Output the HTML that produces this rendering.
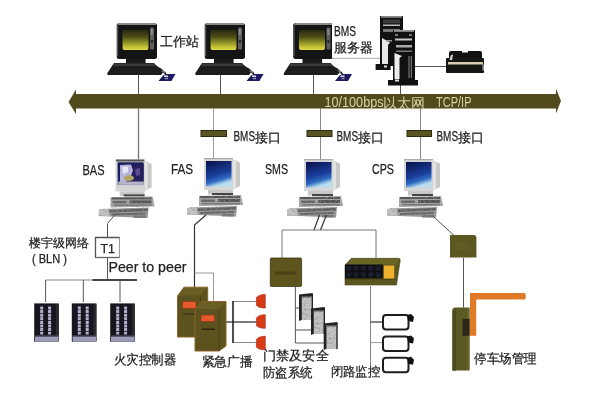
<!DOCTYPE html>
<html><head><meta charset="utf-8">
<style>
html,body{margin:0;padding:0;background:#fff;width:600px;height:400px;overflow:hidden}
svg{display:block;position:absolute;left:0;top:0;filter:blur(0.35px)}
text{font-family:"Liberation Sans",sans-serif}
text[fill="#222"]{stroke:#222;stroke-width:0.25px}
</style></head>
<body>
<svg width="600" height="400" viewBox="0 0 600 400">
<defs>
  <filter id="mot" x="0" y="0" width="1" height="1">
    <feTurbulence type="fractalNoise" baseFrequency="0.45" numOctaves="2" seed="3" result="n"/>
    <feColorMatrix in="n" type="matrix" values="0 0 0 0 0.25  0 0 0 0 0.25  0 0 0 0 0.25  0 0 0 -2.0 1.05" result="a"/>
    <feComposite in="a" in2="SourceGraphic" operator="in" result="dark"/>
    <feMerge><feMergeNode in="SourceGraphic"/><feMergeNode in="dark"/></feMerge>
  </filter>
  <linearGradient id="ysc" x1="0" y1="0" x2="0" y2="1">
    <stop offset="0" stop-color="#2a2a10"/>
    <stop offset="0.35" stop-color="#4e4e18"/>
    <stop offset="0.8" stop-color="#b8b830"/>
    <stop offset="1" stop-color="#dede48"/>
  </linearGradient>
  <linearGradient id="bsc" x1="0" y1="0" x2="0.3" y2="1">
    <stop offset="0" stop-color="#0a1248"/>
    <stop offset="0.6" stop-color="#1a3e9c"/>
    <stop offset="0.82" stop-color="#2e6cc0"/>
    <stop offset="1" stop-color="#b8dcf0"/>
  </linearGradient>
  <g id="ws">
    <!-- monitor -->
    <rect x="116.7" y="23" width="40.3" height="36" rx="2.5" fill="#141414"/>
    <rect x="118" y="23" width="38" height="2" fill="#8a8a8a"/>
    <rect x="117" y="24.5" width="1.2" height="32" fill="#555"/>
    <rect x="150" y="27.5" width="4" height="22" rx="1" fill="#5e5e5e"/>
    <rect x="150.8" y="29" width="2" height="6" fill="#8a8a8a"/>
    <rect x="150.8" y="40" width="2.2" height="3" fill="#2a2a2a"/>
    <rect x="122.5" y="30" width="26" height="20" rx="2" fill="url(#ysc)"/>
    <rect x="126" y="59" width="19.6" height="4.5" fill="#1a1a1a"/>
    <polygon points="114,63 154,63 163,72.5 161,75 107.4,75 107.4,73" fill="#1c1c1c"/>
    <polygon points="114,63.5 154,63.5 156,66 112,66" fill="#3a3a3a"/>
    <polyline points="155,66 161,69.5 166,74" fill="none" stroke="#222" stroke-width="1.8"/>
    <line x1="162" y1="70.5" x2="164.5" y2="72.5" stroke="#ddd" stroke-width="0.8"/>
    <polygon points="158.5,81 163,75.5 166,74 175.5,74 171.5,81" fill="#1e1a62"/>
    <rect x="164" y="75.5" width="4" height="1.6" fill="#e0e0e8"/>
    <rect x="165" y="78.2" width="3" height="1" fill="#b8b8c8"/>
  </g>
  <g id="pc">
    <!-- origin: FAS computer -->
    <polygon points="232,159 240,162.5 240,186 232,190" fill="#c8c8c8"/>
    <polygon points="233,160 236,161.5 236,188 233,189" fill="#e2e2e2"/>
    <rect x="204" y="158" width="29" height="32" fill="#d6d6d6"/>
    <rect x="204" y="158" width="29" height="1.2" fill="#aaa"/>
    <rect x="206" y="161" width="25.5" height="25.6" fill="url(#bsc)"/>
    <rect x="208" y="190" width="25" height="4.5" fill="#c8c8c8"/>
    <rect x="212" y="193" width="21" height="2" fill="#444"/>
    <g filter="url(#mot)" opacity="1">
    <polygon points="199,196 241,195 243,205 199,206" fill="#a8a8a8"/>
    <rect x="200" y="196" width="40" height="2" fill="#555"/>
    <rect x="201" y="199.5" width="14" height="2.5" fill="#666"/>
    <rect x="218" y="199" width="22" height="3" fill="#555"/>
    <rect x="202" y="203" width="38" height="1.5" fill="#777"/>
    <polygon points="189,207.5 237,206 236,216.5 187,214.5" fill="#9a9a9a"/>
    <polygon points="187,208 196,207.5 198,214.5 187,214" fill="#c4c4c4"/>
    <polygon points="198,208.5 236,207 236,209.5 198,211" fill="#5e5e5e"/>
    <polygon points="200,212 234,211 234,213 200,214" fill="#666"/>
    <rect x="222" y="214" width="12" height="2.5" fill="#777"/>
  </g>
  </g>
</defs>

<!-- ===== top lines ===== -->
<g stroke="#555" stroke-width="1" fill="none">
  <line x1="138.5" y1="74" x2="138.5" y2="94"/>
  <line x1="220.5" y1="74" x2="220.5" y2="94"/>
  <line x1="313.5" y1="74" x2="313.5" y2="94"/>
  <line x1="400.5" y1="85" x2="400.5" y2="94"/>
  <line x1="415" y1="66.5" x2="446" y2="66.5"/>
</g>

<!-- workstations -->
<use href="#ws"/>
<use href="#ws" transform="translate(88,0)"/>
<use href="#ws" transform="translate(176.5,0)"/>

<!-- BMS server label box -->
<rect x="332" y="22" width="48" height="36" fill="#fff"/>
<line x1="332" y1="58.3" x2="380" y2="58.3" stroke="#aaa" stroke-width="1"/>

<!-- servers -->
<g>
  <rect x="380" y="16" width="23" height="50" fill="#111"/>
  <rect x="381" y="16" width="21" height="1.8" fill="#888"/>
  <rect x="383" y="19.5" width="17" height="4" fill="#3a3a3a"/>
  <rect x="383" y="24.5" width="17" height="1.5" fill="#bbb"/>
  <rect x="383" y="29" width="17" height="3" fill="#777"/>
  <polygon points="382,38 390,42.5 388,45 388,64 382,64" fill="#e8e8e8"/>
  <rect x="386" y="40" width="6" height="1.5" fill="#999"/>
  <rect x="375.6" y="64" width="15" height="6" fill="#111"/>
  <rect x="384" y="65.5" width="3" height="2" fill="#ddd"/>

  <rect x="393" y="30" width="22" height="50" fill="#111"/>
  <rect x="394" y="30" width="20" height="1.8" fill="#999"/>
  <rect x="395" y="34" width="3" height="2" fill="#777"/>
  <rect x="409" y="34" width="3" height="2" fill="#777"/>
  <rect x="395" y="38.5" width="17" height="2" fill="#c8c8c8"/>
  <rect x="396" y="45" width="16" height="2.5" fill="#aaa"/>
  <rect x="396" y="50.5" width="16" height="1.5" fill="#777"/>
  <polygon points="394.5,53 402,56 399.5,58 399.5,79 394.5,79" fill="#ececec"/>
  <rect x="408.5" y="56" width="1" height="22" fill="#888"/>
  <rect x="410.8" y="56" width="1" height="22" fill="#888"/>
  <rect x="388" y="80" width="30" height="5.5" fill="#111"/>
  <rect x="395" y="79.5" width="4" height="2" fill="#ddd"/>
</g>

<!-- printer -->
<g>
  <rect x="449" y="51" width="33" height="10" rx="2" fill="#111"/>
  <rect x="446" y="58" width="38" height="15" rx="1" fill="#151515"/>
  <rect x="448" y="62" width="35" height="2.5" fill="#d8cfb0"/>
  <path d="M449.5,60 L451,55 L453,54.5 L452,60 Z" fill="#d8d8d8"/>
  <rect x="482.5" y="64.5" width="1.2" height="6" fill="#bbb"/>
  <rect x="462" y="50.5" width="6" height="2" fill="#fff"/>
</g>

<!-- ===== bus ===== -->
<polygon points="68.5,102 76,89.5 76,94 556,94 556,88.5 561,101 556,113.5 556,108.5 76,108.5 76,114" fill="#504a1c"/>
<text x="324.5" y="107.3" font-size="14" fill="#d8d2a8" textLength="59" lengthAdjust="spacingAndGlyphs">10/100bps</text>
<text x="383" y="107.5" font-size="13.5" fill="#d8d2a8">以太网</text>
<text x="436" y="107.3" font-size="14" fill="#d8d2a8" textLength="35.5" lengthAdjust="spacingAndGlyphs">TCP/IP</text>

<!-- text labels top -->
<text x="160" y="46" font-size="13" fill="#222">工作站</text>
<text x="334" y="35.8" font-size="14" fill="#222" textLength="22" lengthAdjust="spacingAndGlyphs">BMS</text>
<text x="334" y="52" font-size="13" fill="#222">服务器</text>

<!-- ===== mid lines ===== -->
<g stroke="#555" stroke-width="1" fill="none">
  <line x1="138.5" y1="108" x2="138.5" y2="159" stroke="#777" stroke-width="1.3"/>
  <line x1="213.5" y1="108" x2="213.5" y2="158" stroke="#999"/>
  <line x1="320.5" y1="108" x2="320.5" y2="159" stroke="#888"/>
  <line x1="420.5" y1="108" x2="420.5" y2="159" stroke="#888"/>
</g>
<g fill="#5a5420" stroke="#2e2a10" stroke-width="1">
  <rect x="201" y="130.5" width="25.5" height="6"/>
  <rect x="307" y="130.5" width="25" height="6"/>
  <rect x="407" y="130.5" width="24.5" height="6"/>
</g>
<text x="233.5" y="141.3" font-size="14" fill="#222" textLength="21.5" lengthAdjust="spacingAndGlyphs">BMS</text><text x="255.0" y="141.5" font-size="12.8" fill="#222">接口</text>
<text x="336.5" y="141.3" font-size="14" fill="#222" textLength="21.5" lengthAdjust="spacingAndGlyphs">BMS</text><text x="358.0" y="141.5" font-size="12.8" fill="#222">接口</text>
<text x="436.5" y="141.3" font-size="14" fill="#222" textLength="21.5" lengthAdjust="spacingAndGlyphs">BMS</text><text x="458.0" y="141.5" font-size="12.8" fill="#222">接口</text>

<text x="82.5" y="175" font-size="14" fill="#222" textLength="22" lengthAdjust="spacingAndGlyphs">BAS</text>
<text x="171" y="173.6" font-size="14" fill="#222" textLength="22" lengthAdjust="spacingAndGlyphs">FAS</text>
<text x="265" y="173.6" font-size="14" fill="#222" textLength="23" lengthAdjust="spacingAndGlyphs">SMS</text>
<text x="372" y="173.6" font-size="14" fill="#222" textLength="22" lengthAdjust="spacingAndGlyphs">CPS</text>

<!-- mid computers -->
<use href="#pc" transform="translate(-88.4,1.4)"/>
<g>
  <rect x="116.2" y="159.7" width="28" height="1.8" fill="#555"/>
  <rect x="118.3" y="162.8" width="25.5" height="22" fill="#1e1c58"/>
  <path d="M120,165 L131,164.5 L133,170 L131,176 L126,182 L120,182 Z" fill="#b8b4dc"/>
  <path d="M122,167 L128,166.5 L128,172 L123,174 Z" fill="#e8e8f4"/>
  <path d="M133,166 L142,165 L142,180 L134,181 Z" fill="#2a2060"/>
  <path d="M135,169 L140,168 L140,175 L136,176 Z" fill="#5a4c90"/>
  <ellipse cx="129" cy="178" rx="5" ry="3" fill="#b0a860"/>
  <rect x="118.3" y="181.5" width="25.5" height="3.3" fill="#b4b4c4"/>
  <rect x="117" y="184.8" width="27" height="4.5" fill="#d4d4d4"/>
</g>
<use href="#pc"/>
<use href="#pc" transform="translate(100,1)"/>
<use href="#pc" transform="translate(200,1)"/>


<!-- ===== lower lines ===== -->
<g stroke="#555" stroke-width="1" fill="none">
  <polyline points="116,213.5 107.5,223.5 107.5,237"/>
  <line x1="107.5" y1="257.5" x2="107.5" y2="280"/>
  <line x1="45.6" y1="280" x2="137" y2="280" stroke="#888"/>
  <line x1="45.6" y1="280" x2="45.6" y2="302"/>
  <line x1="83.3" y1="280" x2="83.3" y2="302"/>
  <line x1="120" y1="280" x2="120" y2="302"/>
  <polyline points="206,215 194.5,225 194.5,287" stroke="#333" stroke-width="1.2"/>
  <polyline points="194.5,273 213.5,273 213.5,301" stroke="#999"/>
  <line x1="233" y1="301.5" x2="257" y2="301.5" stroke="#888"/>
  <line x1="226" y1="322" x2="257" y2="322" stroke="#333" stroke-width="1.3"/>
  <line x1="233" y1="342.5" x2="257" y2="342.5" stroke="#888"/>
  <line x1="233" y1="301" x2="233" y2="343" stroke="#222" stroke-width="1.6"/>
  <line x1="319.5" y1="215" x2="314" y2="230" stroke="#333" stroke-width="1.2"/>
  <line x1="326.5" y1="215" x2="320.5" y2="230" stroke="#333" stroke-width="1.2"/>
  <polyline points="282,258 282,230 376,230 376,258" stroke="#777"/>
  <polyline points="295.4,287 295.4,343"/>
  <line x1="295.4" y1="308" x2="301" y2="308"/>
  <line x1="295.4" y1="330" x2="325" y2="330"/>
  <line x1="295.4" y1="343" x2="325" y2="343"/>
  <line x1="370.5" y1="286" x2="370.5" y2="365" stroke="#888"/>
  <line x1="370.5" y1="322" x2="383" y2="322" stroke="#333" stroke-width="1.2"/>
  <line x1="370.5" y1="342.6" x2="383" y2="342.6" stroke="#999"/>
  <line x1="432.6" y1="215.75" x2="455.4" y2="236.75"/>
  <line x1="463.5" y1="257.5" x2="463.5" y2="307.5"/>
</g>
<rect x="92.5" y="279" width="44.5" height="2" fill="#444"/>

<!-- T1 box -->
<rect x="95.5" y="237.5" width="24" height="20" fill="#fff" stroke="#999" stroke-width="1"/>
<polyline points="95.5,257.5 95.5,237.5 119.5,237.5" fill="none" stroke="#555" stroke-width="1.3"/>
<line x1="95.5" y1="257.5" x2="119.5" y2="257.5" stroke="#666" stroke-width="1.3"/>
<text x="100.5" y="253" font-size="13" fill="#222" textLength="14.5" lengthAdjust="spacingAndGlyphs">T1</text>
<text x="28.5" y="247" font-size="12" fill="#222">楼宇级网络</text>
<text x="32" y="263" font-size="12" fill="#222" textLength="35" lengthAdjust="spacingAndGlyphs">( BLN )</text>
<text x="108.5" y="272" font-size="14" fill="#222" textLength="78" lengthAdjust="spacingAndGlyphs">Peer to peer</text>

<!-- fire controllers -->
<g id="fc">
  <rect x="34.2" y="303.4" width="24.6" height="38.4" fill="#17161f"/>
  <rect x="56" y="304" width="2.8" height="37" fill="#2a2a33"/>
  <rect x="35" y="336.4" width="23.5" height="5.4" fill="#9c9cb8"/>
  <rect x="35" y="335.5" width="23.5" height="1.2" fill="#55546a"/>
  <line x1="41.7" y1="306.5" x2="41.7" y2="334.5" stroke="#b4b0d0" stroke-width="3" stroke-dasharray="3,0.6"/>
  <line x1="49.6" y1="306.5" x2="49.6" y2="334.5" stroke="#b4b0d0" stroke-width="3" stroke-dasharray="3,0.6"/>
</g>
<use href="#fc" transform="translate(37.6,0)"/>
<use href="#fc" transform="translate(76,0)"/>

<!-- broadcast cabinets -->
<g>
  <polygon points="177.5,296 184,287.2 207.7,287.2 207.7,333 200.5,337 177.5,337" fill="#5c521e" stroke="#8a6428" stroke-width="1"/>
  <polygon points="178,295.5 184.5,288 207,288 200.5,295.5" fill="#6a5e24"/>
  <line x1="200.5" y1="295.5" x2="200.5" y2="337" stroke="#4a3e18" stroke-width="1"/>
  <rect x="182.5" y="301.5" width="13.5" height="6.8" fill="#e85a2e" stroke="#8a3a1a" stroke-width="0.8"/>
  <rect x="183" y="313.5" width="13" height="1.2" fill="#3a3214"/>
  <polygon points="195,309.5 201.5,301.5 226,301.5 226,346 219,351 195,351" fill="#5c521e" stroke="#8a6428" stroke-width="1"/>
  <polygon points="195.5,309 202,302.3 225.5,302.3 219,309" fill="#6a5e24"/>
  <line x1="219" y1="309" x2="219" y2="351" stroke="#4a3e18" stroke-width="1"/>
  <rect x="201" y="315" width="13.4" height="6.6" fill="#e85a2e" stroke="#8a3a1a" stroke-width="0.8"/>
  <rect x="202" y="328.5" width="13" height="1.5" fill="#2a2410"/>
</g>
<!-- speakers -->
<g fill="#d83a18" id="spk">
  <path d="M256.4,297.6 Q258.5,294.8 263,294.5 L265.3,294.5 L265.3,308 L263,308 Q258.5,307.6 256.4,305.4 Z" stroke="#a82812" stroke-width="0.6"/>
</g>
<use href="#spk" transform="translate(0,20.3)"/>
<use href="#spk" transform="translate(0,41.8)"/>
<!-- access controller -->
<rect x="270.3" y="258" width="31.3" height="28.5" rx="1.2" fill="#5e541e" stroke="#3e3612" stroke-width="0.8"/>
<rect x="275" y="271.5" width="21" height="3" rx="1.5" fill="#443c16" opacity="0.75"/>
<!-- card readers -->
<g id="cr">
  <polygon points="299,294.5 312.5,293 313,294 313,320 311.5,320 301.5,320 299,321" fill="#222"/>
  <rect x="301.8" y="296" width="9.8" height="24" fill="#c2c2c2" filter="url(#mot)"/>
  <rect x="302" y="296" width="9.6" height="1.5" fill="#555"/>
</g>
<use href="#cr" transform="translate(12,14)"/>
<use href="#cr" transform="translate(24.7,29)"/>

<!-- CCTV controller -->
<g>
  <path d="M345,265 L351.4,258.3 L398.5,258.3 Q400.5,258.3 400.2,260.5 L396.5,285 L345,285 Z" fill="#5c5620" stroke="#4a4414" stroke-width="0.6"/>
  <path d="M346,264.5 L351.8,259 L399,259 L396,264.5 Z" fill="#6c6626"/>
  <rect x="345" y="264.5" width="37.8" height="14" fill="#0e0e10"/>
  <rect x="346.2" y="265.8" width="5.4" height="5" rx="1.5" fill="#1a1e2a"/><rect x="346.2" y="272.2" width="5.4" height="5" rx="1.5" fill="#1a1e2a"/><rect x="353.5" y="265.8" width="5.4" height="5" rx="1.5" fill="#1a1e2a"/><rect x="353.5" y="272.2" width="5.4" height="5" rx="1.5" fill="#1a1e2a"/><rect x="360.8" y="265.8" width="5.4" height="5" rx="1.5" fill="#1a1e2a"/><rect x="360.8" y="272.2" width="5.4" height="5" rx="1.5" fill="#1a1e2a"/><rect x="368.1" y="265.8" width="5.4" height="5" rx="1.5" fill="#1a1e2a"/><rect x="368.1" y="272.2" width="5.4" height="5" rx="1.5" fill="#1a1e2a"/><rect x="375.4" y="265.8" width="5.4" height="5" rx="1.5" fill="#1a1e2a"/><rect x="375.4" y="272.2" width="5.4" height="5" rx="1.5" fill="#1a1e2a"/>
  <rect x="383.9" y="265.5" width="10.3" height="13" fill="#f0b030"/>
  <rect x="345" y="279" width="51.5" height="1" fill="#4e4818"/>
</g>

<!-- cameras -->
<g id="cam">
  <rect x="383" y="315" width="25.5" height="14.5" rx="3" fill="#fff" stroke="#1e1e1e" stroke-width="2"/>
  <path d="M407,315 L411,314 L414,317 L413,322 L408,321 Z" fill="#111"/>
</g>
<use href="#cam" transform="translate(0,21.4)"/>
<use href="#cam" transform="translate(0,42.8)"/>

<!-- parking -->
<path d="M450,235 H474 Q476.4,235 476.4,237.5 V257.5 H450 Z" fill="#5c5620"/>
<rect x="456" y="242" width="12" height="8" fill="#665e26" opacity="0.7"/>
<path d="M452.4,310 Q452.4,307.5 455,307.5 H469.5 V370.6 H452.4 Z" fill="#5c5a24"/>
<rect x="452.4" y="310" width="3.5" height="60.6" fill="#4c4a1c"/>
<rect x="467.5" y="308" width="2" height="62" fill="#6a6630"/>
<path d="M470,292.9 H524 Q525.8,292.9 525.8,296.2 Q525.8,299.6 524,299.6 H476.2 V335.7 H470 Z" fill="#e07a26"/>
<rect x="462.5" y="318.8" width="7" height="17" fill="#2e2616"/>

<!-- lower labels -->
<text x="113.6" y="364" font-size="12.5" fill="#222" textLength="62.5" lengthAdjust="spacingAndGlyphs">火灾控制器</text>
<text x="201.6" y="366" font-size="12.5" fill="#222" textLength="51" lengthAdjust="spacingAndGlyphs">紧急广播</text>
<text x="262.9" y="360" font-size="13" fill="#222" textLength="66" lengthAdjust="spacingAndGlyphs">门禁及安全</text>
<text x="262.9" y="376.5" font-size="12.5" fill="#222" textLength="49.5" lengthAdjust="spacingAndGlyphs">防盗系统</text>
<text x="330.6" y="375.8" font-size="12.5" fill="#222" textLength="49.8" lengthAdjust="spacingAndGlyphs">闭路监控</text>
<text x="474.2" y="362.5" font-size="12.5" fill="#222" textLength="62.5" lengthAdjust="spacingAndGlyphs">停车场管理</text>

</svg>
</body></html>
